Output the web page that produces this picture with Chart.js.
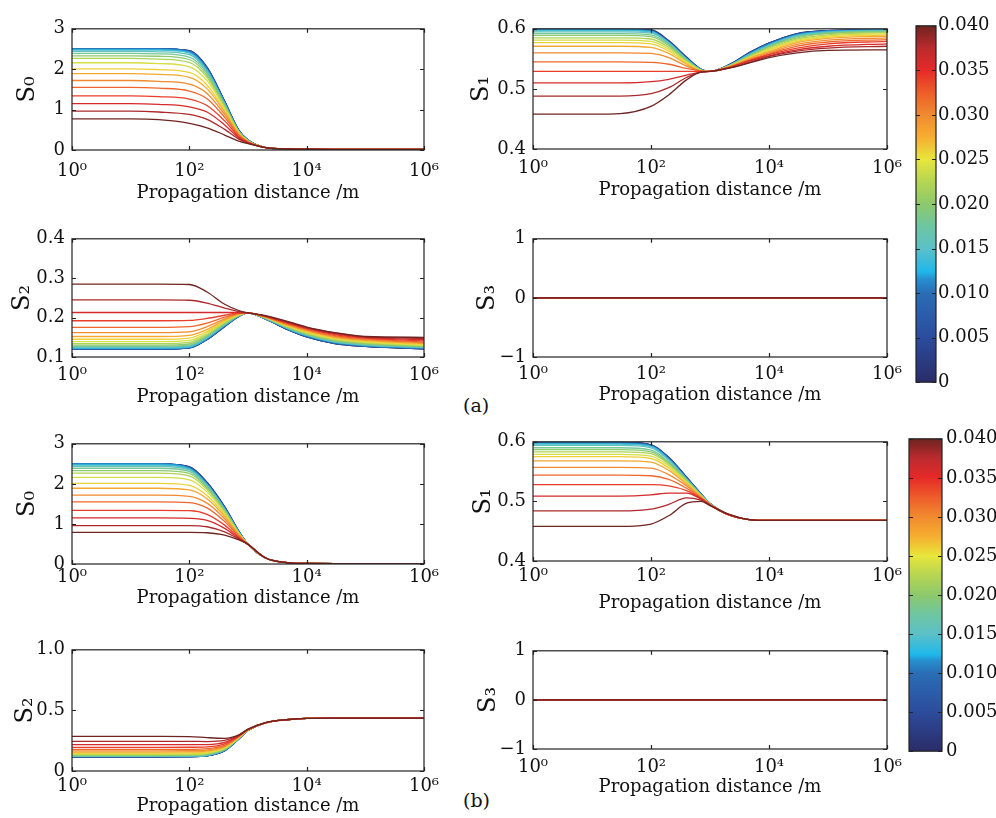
<!DOCTYPE html>
<html>
<head>
<meta charset="utf-8">
<script src="https://cdn.jsdelivr.net/npm/chart.js@4.4.0/dist/chart.umd.min.js"></script>
<style>
  body { margin: 0; background: #fff; }
  #page { position: relative; width: 996px; height: 818px; overflow: hidden; font-family: "DejaVu Serif", serif; color: #111; }
  .panel { position: absolute; }
  .tag { position: absolute; font-size: 19px; line-height: 22px; }
</style>
</head>
<body>
<div id="page">
  <div class="tag" style="left:463px;top:394px">(a)</div>
  <div class="tag" style="left:463px;top:789px">(b)</div>
</div>
<script>
// propagation distance samples (m) shared by every curve
const distances = [1, 10, 30, 100, 200, 400, 700, 1000, 2000, 5000, 1e4, 3e4, 1e5, 1e6];
const xTickValues = [1, 100, 1e4, 1e6];
const xTickLabels = ['10⁰', '10²', '10⁴', '10⁶'];
const xTitle = 'Propagation distance /m';

// colour parameter of each curve (colorbar 0 .. 0.040)
const curveParams = [0, 0.002, 0.004, 0.006, 0.008, 0.010, 0.012, 0.014, 0.016, 0.018, 0.020,
                     0.022, 0.024, 0.026, 0.028, 0.030, 0.032, 0.034, 0.036, 0.038, 0.040];

const s0TickValues = [0, 1, 2, 3];
const s0TickLabels = ['0', '1', '2', '3'];
const s1TickValues = [0.4, 0.5, 0.6];
const s1TickLabels = ['0.4', '0.5', '0.6'];
const s2aTickValues = [0.1, 0.2, 0.3, 0.4];
const s2aTickLabels = ['0.1', '0.2', '0.3', '0.4'];
const s2bTickValues = [0, 0.5, 1];
const s2bTickLabels = ['0', '0.5', '1.0'];
const s3TickValues = [-1, 0, 1];
const s3TickLabels = ['\u22121', '0', '1'];

const colorbarRange = [0, 0.04];
const colorbarTickValues = [0, 0.005, 0.01, 0.015, 0.02, 0.025, 0.03, 0.035, 0.04];
const colorbarTickLabels = ['0', '0.005', '0.010', '0.015', '0.020', '0.025', '0.030', '0.035', '0.040'];

// ---- (a) ----
const s0a = [
  [2.50, 2.50, 2.50, 2.46, 2.05, 1.21, 0.49, 0.25, 0.06, 0.025, 0.018, 0.016, 0.015, 0.015],
  [2.50, 2.50, 2.50, 2.46, 2.04, 1.20, 0.48, 0.25, 0.06, 0.025, 0.018, 0.016, 0.015, 0.015],
  [2.50, 2.50, 2.50, 2.45, 2.03, 1.19, 0.48, 0.24, 0.06, 0.025, 0.018, 0.016, 0.015, 0.015],
  [2.50, 2.50, 2.50, 2.45, 2.03, 1.19, 0.47, 0.24, 0.06, 0.025, 0.018, 0.016, 0.015, 0.015],
  [2.50, 2.50, 2.50, 2.45, 2.02, 1.18, 0.47, 0.24, 0.06, 0.025, 0.018, 0.016, 0.015, 0.015],
  [2.50, 2.50, 2.50, 2.44, 2.01, 1.17, 0.47, 0.24, 0.06, 0.025, 0.018, 0.016, 0.015, 0.015],
  [2.49, 2.49, 2.49, 2.42, 1.99, 1.16, 0.46, 0.24, 0.06, 0.025, 0.018, 0.016, 0.015, 0.015],
  [2.47, 2.47, 2.47, 2.40, 1.97, 1.15, 0.46, 0.24, 0.06, 0.025, 0.018, 0.016, 0.015, 0.015],
  [2.44, 2.44, 2.43, 2.36, 1.94, 1.13, 0.45, 0.23, 0.06, 0.025, 0.018, 0.016, 0.015, 0.015],
  [2.39, 2.39, 2.38, 2.30, 1.90, 1.11, 0.45, 0.23, 0.06, 0.025, 0.018, 0.016, 0.015, 0.015],
  [2.33, 2.33, 2.32, 2.24, 1.85, 1.09, 0.44, 0.23, 0.06, 0.025, 0.018, 0.016, 0.015, 0.015],
  [2.27, 2.27, 2.25, 2.17, 1.80, 1.06, 0.43, 0.22, 0.06, 0.025, 0.018, 0.016, 0.015, 0.015],
  [2.16, 2.16, 2.14, 2.06, 1.72, 1.03, 0.42, 0.22, 0.06, 0.025, 0.018, 0.016, 0.015, 0.015],
  [2.01, 2.01, 1.99, 1.92, 1.61, 0.98, 0.41, 0.21, 0.06, 0.025, 0.018, 0.016, 0.015, 0.015],
  [1.89, 1.89, 1.87, 1.80, 1.52, 0.94, 0.40, 0.21, 0.06, 0.025, 0.018, 0.016, 0.015, 0.015],
  [1.72, 1.72, 1.70, 1.63, 1.40, 0.88, 0.38, 0.20, 0.06, 0.025, 0.018, 0.016, 0.015, 0.015],
  [1.55, 1.55, 1.53, 1.46, 1.27, 0.81, 0.36, 0.20, 0.06, 0.025, 0.018, 0.016, 0.015, 0.015],
  [1.34, 1.34, 1.32, 1.26, 1.10, 0.72, 0.33, 0.19, 0.06, 0.025, 0.018, 0.016, 0.015, 0.015],
  [1.15, 1.15, 1.13, 1.07, 0.94, 0.62, 0.30, 0.18, 0.06, 0.025, 0.018, 0.016, 0.015, 0.015],
  [0.96, 0.96, 0.94, 0.88, 0.76, 0.51, 0.27, 0.17, 0.06, 0.025, 0.018, 0.016, 0.015, 0.015],
  [0.77, 0.77, 0.75, 0.66, 0.55, 0.37, 0.22, 0.16, 0.06, 0.025, 0.018, 0.016, 0.015, 0.015]
];
const s1a = [
  [0.599, 0.599, 0.599, 0.598, 0.580, 0.553, 0.533, 0.529, 0.539, 0.562, 0.576, 0.592, 0.597, 0.599],
  [0.599, 0.599, 0.599, 0.598, 0.580, 0.552, 0.533, 0.529, 0.539, 0.562, 0.576, 0.592, 0.597, 0.599],
  [0.599, 0.599, 0.599, 0.597, 0.579, 0.552, 0.532, 0.529, 0.538, 0.561, 0.576, 0.591, 0.597, 0.598],
  [0.599, 0.599, 0.599, 0.597, 0.579, 0.551, 0.532, 0.529, 0.538, 0.561, 0.575, 0.591, 0.596, 0.598],
  [0.599, 0.599, 0.599, 0.597, 0.578, 0.551, 0.532, 0.529, 0.538, 0.561, 0.575, 0.591, 0.596, 0.598],
  [0.599, 0.599, 0.599, 0.596, 0.578, 0.551, 0.532, 0.529, 0.538, 0.560, 0.575, 0.590, 0.596, 0.598],
  [0.598, 0.598, 0.598, 0.596, 0.577, 0.550, 0.532, 0.529, 0.538, 0.560, 0.574, 0.590, 0.596, 0.598],
  [0.597, 0.597, 0.597, 0.595, 0.577, 0.550, 0.532, 0.529, 0.538, 0.559, 0.573, 0.589, 0.595, 0.597],
  [0.595, 0.595, 0.595, 0.593, 0.576, 0.549, 0.531, 0.529, 0.538, 0.558, 0.572, 0.588, 0.594, 0.597],
  [0.592, 0.592, 0.592, 0.590, 0.574, 0.548, 0.531, 0.529, 0.537, 0.557, 0.571, 0.587, 0.593, 0.596],
  [0.589, 0.589, 0.589, 0.587, 0.572, 0.547, 0.531, 0.529, 0.537, 0.556, 0.570, 0.585, 0.592, 0.595],
  [0.585, 0.585, 0.585, 0.583, 0.569, 0.546, 0.531, 0.529, 0.537, 0.555, 0.568, 0.583, 0.590, 0.594],
  [0.581, 0.581, 0.581, 0.579, 0.566, 0.545, 0.531, 0.529, 0.537, 0.554, 0.566, 0.581, 0.588, 0.592],
  [0.577, 0.577, 0.577, 0.575, 0.563, 0.543, 0.530, 0.529, 0.536, 0.553, 0.564, 0.579, 0.586, 0.590],
  [0.571, 0.571, 0.571, 0.569, 0.559, 0.541, 0.530, 0.529, 0.536, 0.552, 0.562, 0.577, 0.584, 0.588],
  [0.560, 0.560, 0.560, 0.559, 0.552, 0.538, 0.530, 0.529, 0.536, 0.550, 0.560, 0.574, 0.581, 0.585],
  [0.545, 0.545, 0.545, 0.544, 0.541, 0.534, 0.530, 0.529, 0.535, 0.549, 0.558, 0.571, 0.578, 0.582],
  [0.529, 0.529, 0.529, 0.529, 0.529, 0.529, 0.529, 0.529, 0.535, 0.548, 0.557, 0.568, 0.575, 0.579],
  [0.510, 0.510, 0.510, 0.512, 0.516, 0.523, 0.528, 0.529, 0.535, 0.547, 0.555, 0.565, 0.571, 0.575],
  [0.488, 0.488, 0.488, 0.492, 0.502, 0.519, 0.528, 0.529, 0.534, 0.545, 0.554, 0.563, 0.568, 0.571],
  [0.458, 0.458, 0.459, 0.471, 0.490, 0.515, 0.528, 0.529, 0.534, 0.544, 0.552, 0.560, 0.564, 0.565]
];
const s2a = [
  [0.120, 0.120, 0.120, 0.123, 0.144, 0.177, 0.203, 0.212, 0.196, 0.168, 0.151, 0.134, 0.127, 0.121],
  [0.120, 0.120, 0.120, 0.123, 0.145, 0.178, 0.203, 0.212, 0.196, 0.168, 0.151, 0.134, 0.127, 0.121],
  [0.120, 0.120, 0.120, 0.123, 0.145, 0.178, 0.204, 0.212, 0.197, 0.169, 0.152, 0.135, 0.127, 0.121],
  [0.121, 0.121, 0.121, 0.124, 0.145, 0.178, 0.204, 0.212, 0.197, 0.169, 0.152, 0.135, 0.128, 0.122],
  [0.121, 0.121, 0.121, 0.124, 0.146, 0.179, 0.204, 0.212, 0.197, 0.169, 0.152, 0.135, 0.128, 0.122],
  [0.121, 0.121, 0.121, 0.124, 0.146, 0.179, 0.204, 0.212, 0.197, 0.170, 0.153, 0.136, 0.128, 0.122],
  [0.122, 0.122, 0.122, 0.125, 0.147, 0.180, 0.204, 0.212, 0.197, 0.170, 0.154, 0.137, 0.129, 0.123],
  [0.123, 0.123, 0.123, 0.126, 0.148, 0.181, 0.205, 0.212, 0.198, 0.171, 0.155, 0.138, 0.130, 0.124],
  [0.125, 0.125, 0.125, 0.128, 0.150, 0.182, 0.205, 0.212, 0.198, 0.172, 0.156, 0.139, 0.131, 0.125],
  [0.127, 0.127, 0.127, 0.130, 0.152, 0.183, 0.205, 0.212, 0.198, 0.173, 0.157, 0.140, 0.132, 0.126],
  [0.130, 0.130, 0.130, 0.133, 0.154, 0.185, 0.206, 0.212, 0.199, 0.174, 0.158, 0.142, 0.134, 0.127],
  [0.134, 0.134, 0.134, 0.137, 0.157, 0.187, 0.206, 0.212, 0.199, 0.175, 0.160, 0.144, 0.136, 0.129],
  [0.139, 0.139, 0.139, 0.142, 0.161, 0.189, 0.207, 0.212, 0.200, 0.177, 0.162, 0.146, 0.138, 0.130],
  [0.145, 0.145, 0.145, 0.148, 0.165, 0.191, 0.208, 0.212, 0.200, 0.178, 0.164, 0.148, 0.140, 0.132],
  [0.152, 0.152, 0.152, 0.155, 0.170, 0.194, 0.209, 0.212, 0.201, 0.180, 0.166, 0.150, 0.142, 0.134],
  [0.162, 0.162, 0.162, 0.164, 0.177, 0.197, 0.210, 0.212, 0.201, 0.181, 0.168, 0.152, 0.144, 0.136],
  [0.175, 0.175, 0.175, 0.177, 0.186, 0.201, 0.211, 0.212, 0.202, 0.183, 0.170, 0.154, 0.146, 0.138],
  [0.192, 0.192, 0.192, 0.193, 0.198, 0.206, 0.212, 0.212, 0.203, 0.185, 0.172, 0.157, 0.148, 0.141],
  [0.213, 0.213, 0.213, 0.213, 0.213, 0.213, 0.213, 0.212, 0.203, 0.186, 0.173, 0.159, 0.150, 0.144],
  [0.245, 0.245, 0.245, 0.244, 0.237, 0.224, 0.215, 0.212, 0.204, 0.188, 0.175, 0.161, 0.151, 0.147],
  [0.285, 0.285, 0.285, 0.284, 0.265, 0.234, 0.218, 0.212, 0.205, 0.189, 0.176, 0.162, 0.152, 0.150]
];
const s3Zero = [0, 0, 0, 0, 0, 0, 0, 0, 0, 0, 0, 0, 0, 0];
const s3a = curveParams.map(() => s3Zero);

// ---- (b) ----
const s0b = [
  [2.50, 2.50, 2.50, 2.43, 2.04, 1.43, 0.82, 0.49, 0.15, 0.03, 0.012, 0.010, 0.010, 0.010],
  [2.50, 2.50, 2.50, 2.42, 2.03, 1.42, 0.81, 0.49, 0.15, 0.03, 0.012, 0.010, 0.010, 0.010],
  [2.50, 2.50, 2.50, 2.42, 2.02, 1.41, 0.81, 0.49, 0.15, 0.03, 0.012, 0.010, 0.010, 0.010],
  [2.50, 2.50, 2.50, 2.41, 2.02, 1.41, 0.80, 0.49, 0.15, 0.03, 0.012, 0.010, 0.010, 0.010],
  [2.50, 2.50, 2.50, 2.41, 2.01, 1.40, 0.80, 0.49, 0.15, 0.03, 0.012, 0.010, 0.010, 0.010],
  [2.50, 2.50, 2.50, 2.40, 2.00, 1.39, 0.80, 0.49, 0.15, 0.03, 0.012, 0.010, 0.010, 0.010],
  [2.49, 2.49, 2.49, 2.39, 1.99, 1.38, 0.79, 0.49, 0.15, 0.03, 0.012, 0.010, 0.010, 0.010],
  [2.47, 2.47, 2.47, 2.37, 1.98, 1.37, 0.79, 0.49, 0.15, 0.03, 0.012, 0.010, 0.010, 0.010],
  [2.44, 2.44, 2.44, 2.35, 1.96, 1.36, 0.78, 0.49, 0.15, 0.03, 0.012, 0.010, 0.010, 0.010],
  [2.39, 2.39, 2.39, 2.31, 1.93, 1.34, 0.78, 0.49, 0.15, 0.03, 0.012, 0.010, 0.010, 0.010],
  [2.33, 2.33, 2.33, 2.26, 1.90, 1.32, 0.77, 0.49, 0.15, 0.03, 0.012, 0.010, 0.010, 0.010],
  [2.27, 2.27, 2.27, 2.20, 1.86, 1.30, 0.76, 0.49, 0.15, 0.03, 0.012, 0.010, 0.010, 0.010],
  [2.16, 2.16, 2.16, 2.10, 1.80, 1.27, 0.75, 0.49, 0.15, 0.03, 0.012, 0.010, 0.010, 0.010],
  [2.01, 2.01, 2.01, 1.96, 1.71, 1.23, 0.74, 0.49, 0.15, 0.03, 0.012, 0.010, 0.010, 0.010],
  [1.89, 1.89, 1.89, 1.85, 1.63, 1.19, 0.73, 0.49, 0.15, 0.03, 0.012, 0.010, 0.010, 0.010],
  [1.72, 1.72, 1.72, 1.69, 1.52, 1.13, 0.71, 0.49, 0.15, 0.03, 0.012, 0.010, 0.010, 0.010],
  [1.55, 1.55, 1.55, 1.53, 1.40, 1.06, 0.69, 0.49, 0.15, 0.03, 0.012, 0.010, 0.010, 0.010],
  [1.34, 1.34, 1.34, 1.33, 1.24, 0.97, 0.66, 0.49, 0.15, 0.03, 0.012, 0.010, 0.010, 0.010],
  [1.15, 1.15, 1.15, 1.14, 1.09, 0.89, 0.64, 0.49, 0.15, 0.03, 0.012, 0.010, 0.010, 0.010],
  [0.96, 0.96, 0.96, 0.96, 0.93, 0.80, 0.62, 0.49, 0.15, 0.03, 0.012, 0.010, 0.010, 0.010],
  [0.79, 0.79, 0.79, 0.79, 0.78, 0.72, 0.60, 0.49, 0.15, 0.03, 0.012, 0.010, 0.010, 0.010]
];
const s1b = [
  [0.599, 0.599, 0.599, 0.595, 0.574, 0.541, 0.513, 0.497, 0.478, 0.469, 0.468, 0.468, 0.468, 0.468],
  [0.599, 0.599, 0.599, 0.595, 0.573, 0.540, 0.513, 0.496, 0.478, 0.469, 0.468, 0.468, 0.468, 0.468],
  [0.599, 0.599, 0.599, 0.595, 0.573, 0.540, 0.513, 0.496, 0.478, 0.469, 0.468, 0.468, 0.468, 0.468],
  [0.598, 0.598, 0.598, 0.594, 0.573, 0.540, 0.512, 0.496, 0.478, 0.469, 0.468, 0.468, 0.468, 0.468],
  [0.598, 0.598, 0.598, 0.594, 0.572, 0.539, 0.512, 0.496, 0.478, 0.469, 0.468, 0.468, 0.468, 0.468],
  [0.598, 0.598, 0.598, 0.593, 0.572, 0.539, 0.512, 0.496, 0.478, 0.469, 0.468, 0.468, 0.468, 0.468],
  [0.597, 0.597, 0.597, 0.593, 0.571, 0.538, 0.512, 0.496, 0.478, 0.469, 0.468, 0.468, 0.468, 0.468],
  [0.596, 0.596, 0.596, 0.592, 0.570, 0.538, 0.511, 0.496, 0.478, 0.469, 0.468, 0.468, 0.468, 0.468],
  [0.594, 0.594, 0.594, 0.590, 0.569, 0.537, 0.511, 0.496, 0.478, 0.469, 0.468, 0.468, 0.468, 0.468],
  [0.590, 0.590, 0.590, 0.586, 0.566, 0.536, 0.511, 0.496, 0.478, 0.469, 0.468, 0.468, 0.468, 0.468],
  [0.587, 0.587, 0.587, 0.583, 0.564, 0.535, 0.510, 0.495, 0.478, 0.469, 0.468, 0.468, 0.468, 0.468],
  [0.583, 0.583, 0.583, 0.580, 0.562, 0.534, 0.510, 0.495, 0.478, 0.469, 0.468, 0.468, 0.468, 0.468],
  [0.579, 0.579, 0.579, 0.576, 0.559, 0.533, 0.509, 0.495, 0.478, 0.469, 0.468, 0.468, 0.468, 0.468],
  [0.575, 0.575, 0.575, 0.572, 0.556, 0.531, 0.509, 0.495, 0.478, 0.469, 0.468, 0.468, 0.468, 0.468],
  [0.568, 0.568, 0.568, 0.566, 0.552, 0.529, 0.508, 0.495, 0.478, 0.469, 0.468, 0.468, 0.468, 0.468],
  [0.557, 0.557, 0.557, 0.556, 0.545, 0.526, 0.507, 0.495, 0.478, 0.469, 0.468, 0.468, 0.468, 0.468],
  [0.544, 0.544, 0.544, 0.543, 0.537, 0.522, 0.506, 0.495, 0.478, 0.469, 0.468, 0.468, 0.468, 0.468],
  [0.528, 0.528, 0.528, 0.528, 0.526, 0.518, 0.505, 0.494, 0.478, 0.469, 0.468, 0.468, 0.468, 0.468],
  [0.509, 0.509, 0.509, 0.511, 0.514, 0.514, 0.504, 0.494, 0.478, 0.469, 0.468, 0.468, 0.468, 0.468],
  [0.484, 0.484, 0.484, 0.487, 0.495, 0.506, 0.502, 0.494, 0.479, 0.469, 0.468, 0.468, 0.468, 0.468],
  [0.458, 0.458, 0.458, 0.462, 0.476, 0.497, 0.500, 0.493, 0.479, 0.469, 0.468, 0.468, 0.468, 0.468]
];
const s2b = [
  [0.117, 0.117, 0.117, 0.118, 0.125, 0.167, 0.266, 0.335, 0.398, 0.425, 0.434, 0.437, 0.437, 0.437],
  [0.117, 0.117, 0.117, 0.118, 0.126, 0.168, 0.267, 0.335, 0.398, 0.425, 0.434, 0.437, 0.437, 0.437],
  [0.117, 0.117, 0.117, 0.118, 0.126, 0.168, 0.267, 0.335, 0.398, 0.425, 0.434, 0.437, 0.437, 0.437],
  [0.118, 0.118, 0.118, 0.119, 0.126, 0.169, 0.267, 0.336, 0.398, 0.425, 0.434, 0.437, 0.437, 0.437],
  [0.118, 0.118, 0.118, 0.119, 0.127, 0.170, 0.268, 0.336, 0.398, 0.425, 0.434, 0.437, 0.437, 0.437],
  [0.119, 0.119, 0.119, 0.120, 0.128, 0.171, 0.268, 0.336, 0.398, 0.425, 0.434, 0.437, 0.437, 0.437],
  [0.120, 0.120, 0.120, 0.121, 0.129, 0.172, 0.269, 0.336, 0.398, 0.425, 0.434, 0.437, 0.437, 0.437],
  [0.121, 0.121, 0.121, 0.122, 0.130, 0.173, 0.269, 0.337, 0.398, 0.425, 0.434, 0.437, 0.437, 0.437],
  [0.123, 0.123, 0.123, 0.124, 0.132, 0.175, 0.270, 0.337, 0.398, 0.425, 0.434, 0.437, 0.437, 0.437],
  [0.126, 0.126, 0.126, 0.127, 0.135, 0.177, 0.271, 0.337, 0.398, 0.425, 0.434, 0.437, 0.437, 0.437],
  [0.130, 0.130, 0.130, 0.131, 0.139, 0.180, 0.272, 0.338, 0.398, 0.425, 0.434, 0.437, 0.437, 0.437],
  [0.135, 0.135, 0.135, 0.136, 0.144, 0.184, 0.274, 0.338, 0.398, 0.425, 0.434, 0.437, 0.437, 0.437],
  [0.141, 0.141, 0.141, 0.142, 0.150, 0.188, 0.276, 0.339, 0.398, 0.425, 0.434, 0.437, 0.437, 0.437],
  [0.148, 0.148, 0.148, 0.149, 0.156, 0.193, 0.278, 0.339, 0.398, 0.425, 0.434, 0.437, 0.437, 0.437],
  [0.156, 0.156, 0.156, 0.157, 0.164, 0.199, 0.280, 0.340, 0.398, 0.425, 0.434, 0.437, 0.437, 0.437],
  [0.166, 0.166, 0.166, 0.167, 0.173, 0.206, 0.283, 0.340, 0.398, 0.425, 0.434, 0.437, 0.437, 0.437],
  [0.178, 0.178, 0.178, 0.179, 0.184, 0.214, 0.286, 0.341, 0.398, 0.425, 0.434, 0.437, 0.437, 0.437],
  [0.195, 0.195, 0.195, 0.196, 0.199, 0.224, 0.289, 0.342, 0.398, 0.425, 0.434, 0.437, 0.437, 0.437],
  [0.217, 0.217, 0.217, 0.217, 0.218, 0.236, 0.292, 0.343, 0.399, 0.425, 0.434, 0.437, 0.437, 0.437],
  [0.245, 0.245, 0.245, 0.245, 0.243, 0.252, 0.295, 0.344, 0.399, 0.425, 0.434, 0.437, 0.437, 0.437],
  [0.285, 0.285, 0.285, 0.284, 0.275, 0.270, 0.298, 0.345, 0.400, 0.425, 0.434, 0.437, 0.437, 0.437]
];
const s3b = curveParams.map(() => s3Zero);

// colormap used for curves and colorbar
const cmapStops = [
  [0, '#2a2c68'], [0.125, '#2c4c9c'], [0.25, '#2a6db5'], [0.29, '#2690cf'], [0.31, '#1fb8ea'],
  [0.375, '#5cc0c8'], [0.44, '#6fc6a0'], [0.5, '#8dc96c'], [0.5625, '#b5d552'], [0.625, '#e8e63b'],
  [0.6875, '#f6ae30'], [0.75, '#f18a2e'], [0.8125, '#ee5d2b'], [0.875, '#e62a27'], [0.9375, '#bc2a2e'], [1, '#6e2420']
];
function hexToRgb(h) { return [1, 3, 5].map(i => parseInt(h.substr(i, 2), 16)); }
function colormap(t) {
  for (let k = 1; k < cmapStops.length; k++) {
    if (t <= cmapStops[k][0]) {
      const [t0, c0] = cmapStops[k - 1], [t1, c1] = cmapStops[k];
      const f = (t - t0) / (t1 - t0), a = hexToRgb(c0), b = hexToRgb(c1);
      return 'rgb(' + a.map((v, i) => Math.round(v + (b[i] - v) * f)).join(',') + ')';
    }
  }
  return cmapStops[cmapStops.length - 1][1];
}

Chart.defaults.font.family = '"DejaVu Serif", serif';
Chart.defaults.color = '#111';

// box round the plot area plus inward tick marks (matlab style)
const frame = {
  id: 'frame',
  afterDatasetsDraw(chart) {
    const { ctx, chartArea: a, scales } = chart;
    ctx.save();
    ctx.strokeStyle = '#222';
    ctx.lineWidth = 1.2;
    ctx.strokeRect(a.left, a.top, a.right - a.left, a.bottom - a.top);
    ctx.beginPath();
    if (scales.x.type === 'logarithmic') {
      scales.x.ticks.forEach(t => {
        const px = Math.round(scales.x.getPixelForValue(t.value)) + 0.5;
        ctx.moveTo(px, a.bottom); ctx.lineTo(px, a.bottom - 4);
        ctx.moveTo(px, a.top); ctx.lineTo(px, a.top + 4);
      });
    }
    scales.y.ticks.forEach(t => {
      const py = Math.round(scales.y.getPixelForValue(t.value)) + 0.5;
      ctx.moveTo(a.left, py); ctx.lineTo(a.left + 4, py);
      ctx.moveTo(a.right, py); ctx.lineTo(a.right - 4, py);
    });
    ctx.stroke();
    ctx.restore();
  }
};

const page = document.getElementById('page');

function addHolder(left, top, w, h) {
  const holder = document.createElement('div');
  holder.className = 'panel';
  holder.style.left = left + 'px';
  holder.style.top = top + 'px';
  holder.style.width = w + 'px';
  holder.style.height = h + 'px';
  const canvas = document.createElement('canvas');
  holder.appendChild(canvas);
  page.appendChild(holder);
  return canvas;
}

function makePanel(p) {
  const padTop = 12, padRight = 26, yw = 70, xh = 60;
  const [L, T, R, B] = p.box;
  const canvas = addHolder(L - yw, T - padTop, yw + (R - L) + padRight, padTop + (B - T) + xh);
  new Chart(canvas, {
    type: 'line',
    data: {
      datasets: p.rows.map((row, i) => ({
        data: distances.map((d, k) => ({ x: d, y: row[k] })),
        borderColor: colormap(curveParams[i] / 0.04),
        borderWidth: 1.3,
        pointRadius: 0,
        cubicInterpolationMode: 'monotone',
        order: p.rows.length - i
      }))
    },
    options: {
      responsive: true,
      maintainAspectRatio: false,
      animation: false,
      layout: { padding: { top: padTop, right: padRight, left: 0, bottom: 0 } },
      plugins: { legend: { display: false }, tooltip: { enabled: false } },
      scales: {
        x: {
          type: 'logarithmic', min: 1, max: 1e6,
          grid: { display: false, drawTicks: false }, border: { display: false },
          afterBuildTicks: a => { a.ticks = xTickValues.map(v => ({ value: v })); },
          afterFit: a => { a.height = xh; },
          ticks: { autoSkip: false, maxRotation: 0, padding: p.tickGap - 10.5, font: { size: 18 },
                   callback: (v, i) => xTickLabels[i] },
          title: { display: true, text: xTitle, font: { size: 18 },
                   padding: { top: 0, bottom: xh - 10.8 - p.titleGap } }
        },
        y: {
          min: p.yMin, max: p.yMax,
          grid: { display: false, drawTicks: false }, border: { display: false },
          afterBuildTicks: a => { a.ticks = p.yTicks.map(v => ({ value: v })); },
          afterFit: a => { a.width = yw; },
          ticks: { padding: 7, font: { size: 18 }, callback: (v, i) => p.yLabels[i] },
          title: { display: true, text: p.yTitle, font: { size: 24 },
                   padding: { top: p.titlePad - 1.2, bottom: 0 } }
        }
      }
    },
    plugins: [frame]
  });
}

function makeColorbar(box, labelPad) {
  const padL = 4, padV = 12, yw = 60;
  const [L, T, R, B] = box;
  const canvas = addHolder(L - padL, T - padV, padL + (R - L) + yw, 2 * padV + (B - T));
  new Chart(canvas, {
    type: 'bar',
    data: {
      labels: [''],
      datasets: [{
        data: [colorbarRange],
        barPercentage: 1, categoryPercentage: 1, borderWidth: 0,
        backgroundColor: ctx => {
          const a = ctx.chart.chartArea;
          if (!a) return '#888';
          const g = ctx.chart.ctx.createLinearGradient(0, a.bottom, 0, a.top);
          cmapStops.forEach(([t, c]) => g.addColorStop(t, c));
          return g;
        }
      }]
    },
    options: {
      responsive: true,
      maintainAspectRatio: false,
      animation: false,
      layout: { padding: { top: padV, bottom: padV, left: padL, right: 0 } },
      plugins: { legend: { display: false }, tooltip: { enabled: false } },
      scales: {
        x: { display: false },
        y: {
          position: 'right', min: colorbarRange[0], max: colorbarRange[1],
          grid: { display: false, drawTicks: false }, border: { display: false },
          afterBuildTicks: a => { a.ticks = colorbarTickValues.map(v => ({ value: v })); },
          afterFit: a => { a.width = yw; },
          ticks: { padding: labelPad, font: { size: 18 }, callback: (v, i) => colorbarTickLabels[i] }
        }
      }
    },
    plugins: [frame]
  });
}

const panels = [
  { box: [72, 23, 424, 150], rows: s0a, yMin: 0, yMax: 3, yTicks: s0TickValues, yLabels: s0TickLabels, yTitle: 'S₀', titlePad: 12.8, tickGap: 21, titleGap: 43 },
  { box: [533, 23, 887, 149], rows: s1a, yMin: 0.4, yMax: 0.6, yTicks: s1TickValues, yLabels: s1TickLabels, yTitle: 'S₁', titlePad: 5.8, tickGap: 19, titleGap: 41 },
  { box: [72, 233, 424, 357], rows: s2a, yMin: 0.1, yMax: 0.4, yTicks: s2aTickValues, yLabels: s2aTickLabels, yTitle: 'S₂', titlePad: 7.8, tickGap: 18, titleGap: 40 },
  { box: [533, 233, 887, 357], rows: s3a, yMin: -1, yMax: 1, yTicks: s3TickValues, yLabels: s3TickLabels, yTitle: 'S₃', titlePad: 11.8, tickGap: 17, titleGap: 38 },
  { box: [72, 438, 424, 564], rows: s0b, yMin: 0, yMax: 3, yTicks: s0TickValues, yLabels: s0TickLabels, yTitle: 'S₀', titlePad: 12.8, tickGap: 13, titleGap: 34 },
  { box: [533, 436, 887, 561], rows: s1b, yMin: 0.4, yMax: 0.6, yTicks: s1TickValues, yLabels: s1TickLabels, yTitle: 'S₁', titlePad: 7.8, tickGap: 15, titleGap: 42 },
  { box: [72, 644, 424, 771], rows: s2b, yMin: 0, yMax: 1, yTicks: s2bTickValues, yLabels: s2bTickLabels, yTitle: 'S₂', titlePad: 10.8, tickGap: 15, titleGap: 35 },
  { box: [533, 645, 887, 749], rows: s3b, yMin: -1, yMax: 1, yTicks: s3TickValues, yLabels: s3TickLabels, yTitle: 'S₃', titlePad: 12.8, tickGap: 18, titleGap: 38 }
];
panels.forEach(makePanel);

makeColorbar([916, 25, 936, 383], 2);
makeColorbar([909, 436, 942, 754], 4);
</script>
</body>
</html>
